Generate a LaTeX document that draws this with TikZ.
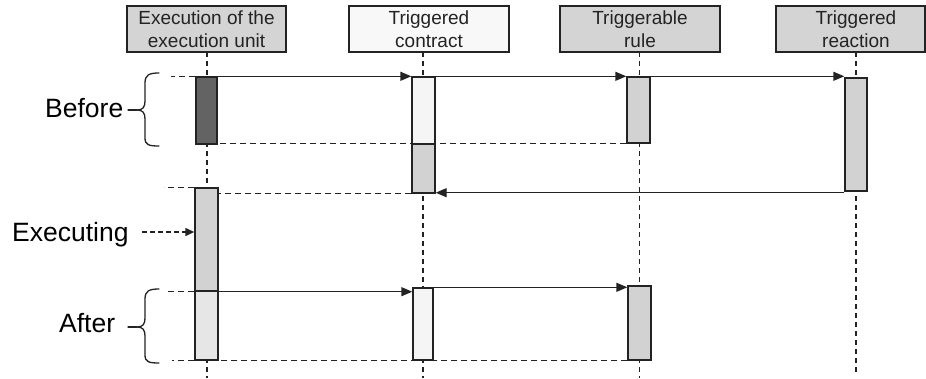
\documentclass[tikz,border=0pt]{standalone}
\usepackage{fontspec}
\setmainfont{Liberation Sans}
\usetikzlibrary{arrows.meta}

\definecolor{headgray}{RGB}{212,212,212}
\definecolor{headlight}{RGB}{248,248,248}
\definecolor{actdark}{RGB}{99,99,99}
\definecolor{actgray}{RGB}{210,210,210}
\definecolor{actpale}{RGB}{230,230,230}
\definecolor{actlight}{RGB}{245,245,245}
\definecolor{ink}{RGB}{35,35,35}

\tikzset{
  head/.style={draw=ink, line width=1.4pt, inner sep=0pt, align=center,
    minimum height=46pt, text=ink,
    font=\fontsize{19}{23}\selectfont},
  headtext/.style={inner sep=0pt, align=center, text=ink,
    font=\fontsize{19}{23}\selectfont},
  act/.style={draw=ink, line width=1.4pt, inner sep=0pt},
  life/.style={draw=ink, line width=1.4pt, dash pattern=on 5pt off 4pt},
  msg/.style={draw=ink, line width=1.4pt, -{Triangle[length=11pt,width=9pt]}},
  back/.style={draw=ink, line width=1.4pt, dash pattern=on 6pt off 4pt},
  phase/.style={inner sep=0pt, anchor=base west, font=\fontsize{26.5}{30}\selectfont},
  curly/.style={draw=ink, line width=1.3pt, line cap=round}
}

\begin{document}
\begin{tikzpicture}[x=1pt, y=-1pt]
  \useasboundingbox (0,0) rectangle (926,378);

  % lifelines, drawn first so the boxes sit over them
  \draw[life] (207,52) -- (207,378);
  \draw[life] (423,52) -- (423,378);
  \draw[life] (639.5,52) -- (639.5,378);
  \draw[life] (856,52) -- (856,373);

  % header boxes
  \node[head, fill=headgray, minimum width=159pt] (h1) at (206.5,29) {Execution of the\\execution unit};
  \node[head, fill=headlight, minimum width=160pt] (h2) at (429,29) {Triggered\\contract};
  \node[head, fill=headgray, minimum width=160pt] (h3) at (640,29) {Triggerable\\rule};
  \node[head, fill=headgray, minimum width=149pt] (h4) at (850.5,29) {};
  \node[headtext] (h4t) at (856,29) {Triggered\\reaction};

  % activation boxes
  \node[act, fill=actdark, minimum width=21pt, minimum height=67pt] (e1) at (206.5,110.5) {};
  \node[act, fill=actlight, minimum width=23pt, minimum height=67pt] (c1a) at (423.5,110.5) {};
  \node[act, fill=actgray, minimum width=23pt, minimum height=49pt] (c1b) at (423.5,168.5) {};
  \node[act, fill=actgray, minimum width=23pt, minimum height=66pt] (r1) at (638.5,110) {};
  \node[act, fill=actgray, minimum width=22pt, minimum height=113pt] (a1) at (856,134.5) {};
  \node[act, fill=actgray, minimum width=23pt, minimum height=103pt] (e2a) at (206.5,239.5) {};
  \node[act, fill=actpale, minimum width=23pt, minimum height=69pt] (e2b) at (206.5,325.5) {};
  \node[act, fill=actlight, minimum width=20pt, minimum height=72pt] (c2) at (423,324) {};
  \node[act, fill=actgray, minimum width=23pt, minimum height=74pt] (r2) at (639.5,323) {};

  % first round of calls
  \draw[back] (e1.north west) -- ++(-24,0);
  \draw[msg] (e1.north east) -- (c1a.north west);
  \draw[msg] (c1a.north east) -- (r1.north west);
  \draw[msg] (r1.north east) -- (r1.north east -| a1.west);
  \draw[back] (r1.south west) -- (r1.south west -| e1.east);
  \draw[msg] ([yshift=-1pt]a1.south west) -- ([yshift=-1pt]a1.south west -| c1b.east);
  \draw[back] (c1b.south west) -- (c1b.south west -| e2a.east);
  \draw[back] (e2a.north west) -- ++(-30,0);

  % second round of calls
  \draw[back] (e2a.south west) -- ++(-28,0);
  \draw[msg] (e2a.south east) -- (e2a.south east -| c2.west);
  \draw[msg] (c2.north east) -- (c2.north east -| r2.west);
  \draw[back] (r2.south west) -- (r2.south west -| e2b.east);
  \draw[back] (e2b.south west) -- ++(-22,0);

  % phase labels
  \node[phase] (before) at (45,117) {Before};
  \node[phase] (exec) at (12,241) {Executing};
  \node[phase] (after) at (59,332) {After};

  \draw[back, dash pattern=on 5pt off 3pt, -{Triangle[length=9pt,width=8pt]}]
    (142,232) -- (142,232 -| e2a.west);

  % braces
  \coordinate (bt) at (159,73);
  \coordinate (bb) at (159,146);
  \draw[curly] (bt) .. controls (149,73) and (145,75) .. (145,83) -- (145,101)
    .. controls (145,107) and (143,110) .. (137,110)
    .. controls (143,110) and (145,113) .. (145,119) -- (145,138)
    .. controls (145,145) and (149,146) .. (bb);
  \draw[curly] (128,110) -- (137,110);

  \coordinate (at) at (159,289);
  \coordinate (ab) at (159,363);
  \draw[curly] (at) .. controls (149,289) and (145,291) .. (145,299) -- (145,318)
    .. controls (145,324) and (143,327) .. (137,327)
    .. controls (143,327) and (145,330) .. (145,336) -- (145,355)
    .. controls (145,362) and (149,363) .. (ab);
  \draw[curly] (128,327) -- (137,327);
\end{tikzpicture}
\end{document}
